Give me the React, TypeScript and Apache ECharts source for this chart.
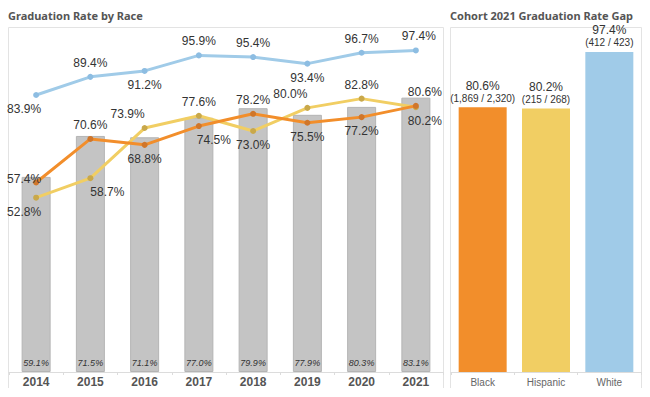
import React, { useEffect, useRef } from "react";
import * as echarts from "echarts";

const years = ["2014", "2015", "2016", "2017", "2018", "2019", "2020", "2021"];
const whiteRate = [83.9, 89.4, 91.2, 95.9, 95.4, 93.4, 96.7, 97.4];
const hispanicRate = [52.8, 58.7, 73.9, 77.6, 73.0, 80.0, 82.8, 80.2];
const blackRate = [57.4, 70.6, 68.8, 74.5, 78.2, 75.5, 77.2, 80.6];
const allRate = [59.1, 71.5, 71.1, 77.0, 79.9, 77.9, 80.3, 83.1];

const gapGroups = ["Black", "Hispanic", "White"];
const gapRate = [80.6, 80.2, 97.4];
const gapGrads = [1869, 215, 412];
const gapCohort = [2320, 268, 423];

// label layout (placement of value labels)
const whitePos = ["b", "t", "b", "t", "t", "b", "t", "t"];
const whiteDx = [-12, 0, 0, 0, 0, 0, 0, 3];
const hispPos = ["b", "b", "t", "t", "b", "t", "t", "b"];
const hispDx = [-12, 17, -17, 0, 0, -17, 0, 9];
const blackPos = ["c", "t", "b", "b", "t", "b", "b", "t"];
const blackDx = [-12, 0, 0, 15, 0, 0, 0, 9];

const ORANGE = "#F28E2B";
const YELLOW = "#F1CE63";
const BLUE = "#A0CBE8";

function withLabels(values: number[], pos: string[], dx: number[]) {
  return values.map((v, i) => {
    const p = pos[i];
    return {
      value: v,
      label: {
        position: p === "b" ? "bottom" : "top",
        offset: [dx[i], p === "c" ? 11 : 0],
      },
    };
  });
}

const lineLabel = {
  show: true,
  fontFamily: "Liberation Sans, Arial, sans-serif",
  fontSize: 12,
  color: "#333",
  formatter: (p: any) => Number(p.value).toFixed(1) + "%",
};

export default function App() {
  const ref = useRef<HTMLDivElement>(null);
  useEffect(() => {
    if (!ref.current) return;
    const chart = echarts.init(ref.current, null, { renderer: "svg" });
    chart.setOption({
      animation: false,
      backgroundColor: "#ffffff",
      textStyle: { fontFamily: "Liberation Sans, Arial, sans-serif" },
      grid: [
        { left: 9, right: 207, top: 27, bottom: 25 },
        { left: 451, right: 9, top: 27, bottom: 25 },
      ],
      xAxis: [
        {
          type: "category",
          gridIndex: 0,
          data: years,
          axisLine: { lineStyle: { color: "#dcdcdc" } },
          axisTick: { show: true, length: 3, lineStyle: { color: "#dcdcdc" } },
          axisLabel: {
            color: "#555",
            fontWeight: "bold",
            fontSize: 12,
            margin: 4,
            fontFamily: "Liberation Sans, Arial, sans-serif",
          },
        },
        {
          type: "category",
          gridIndex: 1,
          data: gapGroups,
          axisLine: { lineStyle: { color: "#dcdcdc" } },
          axisTick: { show: true, length: 3, lineStyle: { color: "#dcdcdc" } },
          axisLabel: {
            color: "#666",
            fontSize: 10,
            margin: 5,
            fontFamily: "Liberation Sans, Arial, sans-serif",
          },
        },
      ],
      yAxis: [
        { type: "value", gridIndex: 0, min: 0, max: 104.5, show: false, splitLine: { show: false } },
        { type: "value", gridIndex: 1, min: 0, max: 105, show: false, splitLine: { show: false } },
      ],
      graphic: [
        {
          type: "polyline",
          shape: { points: [[8.5, 388], [8.5, 27.5], [443.5, 27.5], [443.5, 388]] },
          style: { stroke: "#e3e3e3", fill: null, lineWidth: 1 },
          silent: true,
        },
        {
          type: "polyline",
          shape: { points: [[450.5, 388], [450.5, 27.5], [641.5, 27.5], [641.5, 388]] },
          style: { stroke: "#e3e3e3", fill: null, lineWidth: 1 },
          silent: true,
        },
        {
          type: "text",
          left: 8,
          top: 10,
          style: {
            text: "Graduation Rate by Race",
            fontFamily: "Noto Sans, sans-serif",
            fontWeight: "bold",
            fontSize: 11,
            fill: "#555",
          },
        },
        {
          type: "text",
          left: 450,
          top: 10,
          style: {
            text: "Cohort 2021 Graduation Rate Gap",
            fontFamily: "Noto Sans, sans-serif",
            fontWeight: "bold",
            fontSize: 11,
            fill: "#555",
          },
        },
      ],
      series: [
        {
          name: "All",
          type: "bar",
          xAxisIndex: 0,
          yAxisIndex: 0,
          data: allRate,
          barWidth: 29,
          itemStyle: { color: "#c4c4c4", borderColor: "#b4b4b4", borderWidth: 1 },
          label: {
            show: true,
            position: "insideBottom",
            distance: 5,
            fontSize: 9,
            fontStyle: "italic",
            color: "#333",
            fontFamily: "Liberation Sans, Arial, sans-serif",
            formatter: (p: any) => Number(p.value).toFixed(1) + "%",
          },
          z: 1,
        },
        {
          name: "Hispanic",
          type: "line",
          xAxisIndex: 0,
          yAxisIndex: 0,
          data: withLabels(hispanicRate, hispPos, hispDx),
          symbol: "circle",
          symbolSize: 6,
          lineStyle: { color: YELLOW, width: 3 },
          itemStyle: { color: "#c9a84a" },
          label: lineLabel,
          z: 3,
        },
        {
          name: "Black",
          type: "line",
          xAxisIndex: 0,
          yAxisIndex: 0,
          data: withLabels(blackRate, blackPos, blackDx),
          symbol: "circle",
          symbolSize: 6,
          lineStyle: { color: ORANGE, width: 3 },
          itemStyle: { color: "#d0762a" },
          label: lineLabel,
          z: 4,
        },
        {
          name: "White",
          type: "line",
          xAxisIndex: 0,
          yAxisIndex: 0,
          data: withLabels(whiteRate, whitePos, whiteDx),
          symbol: "circle",
          symbolSize: 6,
          lineStyle: { color: BLUE, width: 3 },
          itemStyle: { color: "#8dbde2" },
          label: lineLabel,
          z: 5,
        },
        {
          name: "Gap",
          type: "bar",
          xAxisIndex: 1,
          yAxisIndex: 1,
          barWidth: 48,
          data: gapRate.map((v, i) => ({
            value: v,
            itemStyle: { color: [ORANGE, YELLOW, BLUE][i] },
          })),
          label: {
            show: true,
            position: "top",
            distance: 3,
            formatter: (p: any) =>
              "{a|" +
              Number(p.value).toFixed(1) +
              "%}\n{b|(" +
              gapGrads[p.dataIndex].toLocaleString("en-US") +
              " / " +
              gapCohort[p.dataIndex].toLocaleString("en-US") +
              ")}",
            rich: {
              a: { fontSize: 12, color: "#333", lineHeight: 13, fontFamily: "Liberation Sans, Arial, sans-serif" },
              b: { fontSize: 10, color: "#333", lineHeight: 12, fontFamily: "Liberation Sans, Arial, sans-serif" },
            },
          },
        },
      ],
    });
    return () => chart.dispose();
  }, []);
  return (
    <div
      ref={ref}
      style={{ position: "fixed", left: 0, top: 0, width: 650, height: 397 }}
    />
  );
}
